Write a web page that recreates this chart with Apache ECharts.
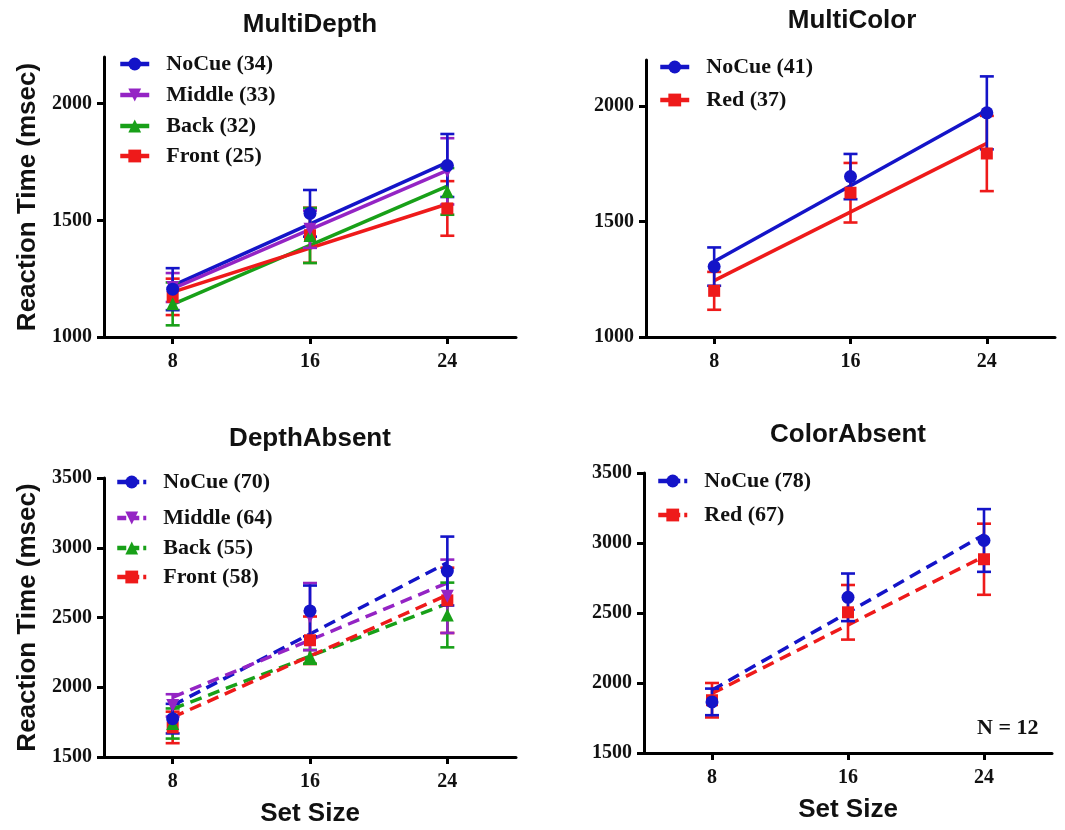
<!DOCTYPE html>
<html>
<head>
<meta charset="utf-8">
<script src="https://cdn.jsdelivr.net/npm/echarts@6/dist/echarts.min.js"></script>
<style>html,body{margin:0;padding:0;background:#fff}#c{width:1065px;height:830px}</style>
</head>
<body>
<div id="c"></div>
<script>
// ---------- data ----------
const setSizes = [8, 16, 24];
const fitX = [8, 24];
const xTicks = [8, 16, 24];
const yTicksTop = [1000, 1500, 2000];
const yTicksBottom = [1500, 2000, 2500, 3000, 3500];

const titles = ['MultiDepth', 'MultiColor', 'DepthAbsent', 'ColorAbsent'];

// MultiDepth
const mdNames = ['NoCue (34)', 'Middle (33)', 'Back (32)', 'Front (25)'];
const mdNoCue = [1205, 1530, 1735];  const mdNoCueErr = [90, 100, 135];  const mdNoCueFit = [1220, 1748];
const mdMiddle = [1212, 1462, 1710]; const mdMiddleErr = [62, 80, 142];  const mdMiddleFit = [1207, 1714];
const mdBack = [1142, 1435, 1624];   const mdBackErr = [92, 118, 100];   const mdBackFit = [1140, 1647];
const mdFront = [1172, 1436, 1551];  const mdFrontErr = [78, 118, 117];  const mdFrontFit = [1192, 1570];

// MultiColor
const mcNames = ['NoCue (41)', 'Red (37)'];
const mcNoCue = [1305, 1695, 1971];  const mcNoCueErr = [83, 98, 158];   const mcNoCueFit = [1327, 1983];
const mcRed = [1200, 1625, 1795];    const mcRedErr = [82, 129, 163];    const mcRedFit = [1244, 1839];

// DepthAbsent
const daNames = ['NoCue (70)', 'Middle (64)', 'Back (55)', 'Front (58)'];
const daNoCue = [1775, 2547, 2833];  const daNoCueErr = [106, 182, 247]; const daNoCueFit = [1870, 2893];
const daMiddle = [1870, 2506, 2652]; const daMiddleErr = [80, 241, 263]; const daMiddleFit = [1928, 2748];
const daBack = [1740, 2218, 2518];   const daBackErr = [108, 50, 232];   const daBackFit = [1845, 2600];
const daFront = [1712, 2337, 2623];  const daFrontErr = [113, 170, 234]; const daFrontFit = [1785, 2662];

// ColorAbsent
const caNames = ['NoCue (78)', 'Red (67)'];
const caNoCue = [1865, 2612, 3018];  const caNoCueErr = [95, 170, 224];  const caNoCueFit = [1949, 3059];
const caRed = [1877, 2505, 2884];    const caRedErr = [123, 195, 254];   const caRedFit = [1925, 2904];

// ---------- styles ----------
const BLUE = '#1414c8', PURPLE = '#9424c4', GREEN = '#18a018', RED = '#ee1a1a';
const SERIF = 'Liberation Serif', SANS = 'Liberation Sans';

const grids = [
  {left: 104, top: 57, width: 412, height: 280},
  {left: 646, top: 60, width: 409, height: 277},
  {left: 104, top: 478, width: 412, height: 279},
  {left: 644, top: 473, width: 408, height: 280}
];

const groups = [
  {g: 0, dashed: false, items: [
    {name: mdNames[0], color: BLUE, symbol: 'circle', rot: 0, m: mdNoCue, e: mdNoCueErr, f: mdNoCueFit},
    {name: mdNames[1], color: PURPLE, symbol: 'triangle', rot: 180, m: mdMiddle, e: mdMiddleErr, f: mdMiddleFit},
    {name: mdNames[2], color: GREEN, symbol: 'triangle', rot: 0, m: mdBack, e: mdBackErr, f: mdBackFit},
    {name: mdNames[3], color: RED, symbol: 'rect', rot: 0, m: mdFront, e: mdFrontErr, f: mdFrontFit}
  ]},
  {g: 1, dashed: false, items: [
    {name: mcNames[0], color: BLUE, symbol: 'circle', rot: 0, m: mcNoCue, e: mcNoCueErr, f: mcNoCueFit},
    {name: mcNames[1], color: RED, symbol: 'rect', rot: 0, m: mcRed, e: mcRedErr, f: mcRedFit}
  ]},
  {g: 2, dashed: true, items: [
    {name: daNames[0], color: BLUE, symbol: 'circle', rot: 0, m: daNoCue, e: daNoCueErr, f: daNoCueFit},
    {name: daNames[1], color: PURPLE, symbol: 'triangle', rot: 180, m: daMiddle, e: daMiddleErr, f: daMiddleFit},
    {name: daNames[2], color: GREEN, symbol: 'triangle', rot: 0, m: daBack, e: daBackErr, f: daBackFit},
    {name: daNames[3], color: RED, symbol: 'rect', rot: 0, m: daFront, e: daFrontErr, f: daFrontFit}
  ]},
  {g: 3, dashed: true, items: [
    {name: caNames[0], color: BLUE, symbol: 'circle', rot: 0, m: caNoCue, e: caNoCueErr, f: caNoCueFit},
    {name: caNames[1], color: RED, symbol: 'rect', rot: 0, m: caRed, e: caRedErr, f: caRedFit}
  ]}
];

const legendPos = [
  {left: 118, rows: [63, 94, 125, 155]},
  {left: 658, rows: [66, 99]},
  {left: 115, rows: [481, 517, 547, 576]},
  {left: 656, rows: [480, 514]}
];

function errRender(params, api) {
  const x = api.value(0), lo = api.value(1), hi = api.value(2);
  const p1 = api.coord([x, hi]), p2 = api.coord([x, lo]);
  const hw = 7;
  const style = {stroke: api.visual('color'), lineWidth: 2.6, fill: null};
  return {type: 'group', children: [
    {type: 'line', shape: {x1: p1[0], y1: p1[1], x2: p2[0], y2: p2[1]}, style: style},
    {type: 'line', shape: {x1: p1[0] - hw, y1: p1[1], x2: p1[0] + hw, y2: p1[1]}, style: style},
    {type: 'line', shape: {x1: p2[0] - hw, y1: p2[1], x2: p2[0] + hw, y2: p2[1]}, style: style}
  ]};
}

const series = [];
const legends = [];
groups.forEach(function (grp) {
  // fit lines first (below)
  grp.items.forEach(function (it) {
    series.push({
      type: 'line', name: it.name, xAxisIndex: grp.g, yAxisIndex: grp.g,
      data: fitX.map(function (x, i) { return [x, it.f[i]]; }),
      symbol: it.symbol, symbolRotate: it.rot, showSymbol: false, symbolSize: 12,
      lineStyle: {color: it.color, width: 3.5, type: grp.dashed ? [12, 7] : 'solid'},
      itemStyle: {color: it.color},
      z: 2, silent: true, animation: false
    });
  });
  // error bars + points, last group drawn first so NoCue is on top
  grp.items.slice().reverse().forEach(function (it) {
    series.push({
      type: 'custom', name: it.name, xAxisIndex: grp.g, yAxisIndex: grp.g,
      data: setSizes.map(function (x, i) { return [x, it.m[i] - it.e[i], it.m[i] + it.e[i]]; }),
      renderItem: errRender, itemStyle: {color: it.color}, z: 3, silent: true, animation: false
    });
    series.push({
      type: 'scatter', name: it.name, xAxisIndex: grp.g, yAxisIndex: grp.g,
      data: setSizes.map(function (x, i) { return [x, it.m[i]]; }),
      symbol: it.symbol, symbolRotate: it.rot, symbolSize: it.symbol === 'rect' ? 12 : 13,
      itemStyle: {color: it.color, opacity: 1}, z: 3, silent: true, animation: false
    });
  });
  const lp = legendPos[grp.g];
  grp.items.forEach(function (it, k) {
    legends.push({
      data: [it.name], left: lp.left, top: lp.rows[k] - 10, padding: 0,
      itemWidth: 29, itemHeight: 16, selectedMode: false,
      lineStyle: {width: 4.5, type: grp.dashed ? [9, 4] : 'solid'},
      textStyle: {fontFamily: SERIF, fontWeight: 'bold', fontSize: 22, color: '#111', padding: [0, 0, 0, 12]}
    });
  });
});

function plain(v) { return String(v); }

function xAx(gi, withName) {
  return {
    type: 'value', gridIndex: gi, min: 4, max: 28,
    axisLine: {onZero: false, lineStyle: {color: '#000', width: 3}},
    axisTick: {customValues: xTicks, length: 7, lineStyle: {color: '#000', width: 3}},
    axisLabel: {customValues: xTicks, formatter: plain, margin: 15, color: '#111', fontFamily: SERIF, fontWeight: 'bold', fontSize: 20},
    splitLine: {show: false},
    name: withName ? 'Set Size' : '', nameLocation: 'middle', nameGap: 44,
    nameTextStyle: {color: '#111', fontFamily: SANS, fontWeight: 'bold', fontSize: 26}
  };
}
function yAx(gi, min, max, ticks, withName) {
  return {
    type: 'value', gridIndex: gi, min: min, max: max,
    axisLine: {onZero: false, lineStyle: {color: '#000', width: 3}},
    axisTick: {customValues: ticks, length: 7, lineStyle: {color: '#000', width: 3}},
    axisLabel: {customValues: ticks, formatter: plain, margin: 12, color: '#111', fontFamily: SERIF, fontWeight: 'bold', fontSize: 20},
    splitLine: {show: false},
    name: withName ? 'Reaction Time (msec)' : '', nameLocation: 'middle', nameGap: 63,
    nameTextStyle: {color: '#111', fontFamily: SANS, fontWeight: 'bold', fontSize: 26}
  };
}

const titlePos = [[310, 25], [852, 21], [310, 439], [848, 435]];
const graphics = titles.map(function (t, i) {
  return {type: 'text', x: titlePos[i][0], y: titlePos[i][1], silent: true,
    style: {text: t, fill: '#111', font: 'bold 26px "Liberation Sans"', textAlign: 'center', textVerticalAlign: 'middle'}};
});
graphics.push({type: 'text', x: 977, y: 728, silent: true,
  style: {text: 'N = 12', fill: '#111', font: 'bold 22px "Liberation Serif"', textAlign: 'left', textVerticalAlign: 'middle'}});

const chart = echarts.init(document.getElementById('c'), null, {renderer: 'canvas'});
chart.setOption({
  backgroundColor: '#fff',
  animation: false,
  grid: grids.map(function (g) { return Object.assign({containLabel: false, outerBoundsMode: 'none'}, g); }),
  xAxis: [xAx(0, false), xAx(1, false), xAx(2, true), xAx(3, true)],
  yAxis: [yAx(0, 1000, 2200, yTicksTop, true), yAx(1, 1000, 2200, yTicksTop, false),
          yAx(2, 1500, 3500, yTicksBottom, true), yAx(3, 1500, 3500, yTicksBottom, false)],
  legend: legends,
  graphic: graphics,
  series: series
});
</script>
</body>
</html>
